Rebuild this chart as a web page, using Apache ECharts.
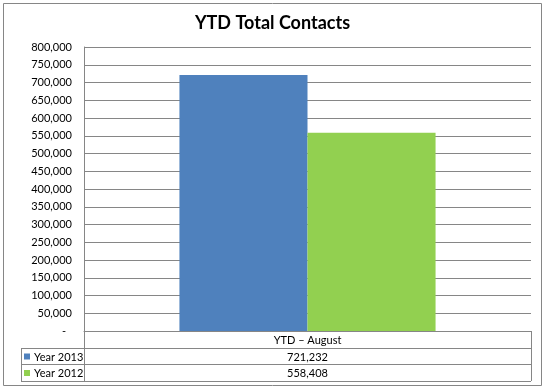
<!DOCTYPE html>
<html><head><meta charset="utf-8">
<script src="https://cdn.jsdelivr.net/npm/echarts@6/dist/echarts.min.js"></script>
<style>html,body{margin:0;padding:0;background:#fff}#c{width:545px;height:388px}</style>
</head><body><div id="c"></div>
<script>
const title = 'YTD Total Contacts';
const categories = ['YTD \u2013 August'];
const seriesNames = ['Year 2013', 'Year 2012'];
const values2013 = [721232];
const values2012 = [558408];
const seriesColors = ['#4F81BD', '#92D050'];
const yMin = 0, yMax = 800000, yStep = 50000;

const FONT = 'Lato, "Open Sans", sans-serif';
const G = {left: 84, right: 531, top: 47, bottom: 331};
const tableLeft = 21;
const rowH = [17, 16, 17];
const fmt = v => v.toLocaleString('en-US');

const chart = echarts.init(document.getElementById('c'), null, {renderer: 'canvas'});
const allVals = [values2013, values2012];

const graphics = [];
// outer border
graphics.push({type: 'rect', shape: {x: 3.5, y: 3.5, width: 538, height: 382}, style: {fill: 'none', stroke: '#868686', lineWidth: 1}, silent: true});
// table lines
const y0 = G.bottom, y1 = y0 + rowH[0], y2 = y1 + rowH[1], y3 = y2 + rowH[2];
const L = (x1, ya, x2, yb) => graphics.push({type: 'line', shape: {x1, y1: ya, x2, y2: yb}, style: {stroke: '#868686', lineWidth: 1}, silent: true});
L(tableLeft, y1 + 0.5, G.right, y1 + 0.5);
L(tableLeft, y2 + 0.5, G.right, y2 + 0.5);
L(tableLeft, y3 + 0.5, G.right, y3 + 0.5);
L(tableLeft + 0.5, y1, tableLeft + 0.5, y3);
L(G.left + 0.5, y0, G.left + 0.5, y3);
L(G.right + 0.5, y0, G.right + 0.5, y3);
// header text
const cx = (G.left + G.right) / 2;
graphics.push({type: 'text', style: {text: categories[0], x: cx, y: (y0 + y1) / 2 + 1, align: 'center', verticalAlign: 'middle', font: '11px ' + FONT, fill: '#000'}});
const rowYs = [(y1 + y2) / 2 + 1, (y2 + y3) / 2 + 1];
seriesNames.forEach((n, i) => {
  graphics.push({type: 'rect', shape: {x: 24, y: rowYs[i] - 3.5, width: 6, height: 6}, style: {fill: seriesColors[i]}});
  graphics.push({type: 'text', style: {text: n, x: 34, y: rowYs[i], align: 'left', verticalAlign: 'middle', font: '11px ' + FONT, fill: '#000'}});
  graphics.push({type: 'text', style: {text: fmt(allVals[i][0]), x: cx, y: rowYs[i], align: 'center', verticalAlign: 'middle', font: '11px ' + FONT, fill: '#000'}});
});

chart.setOption({
  animation: false,
  backgroundColor: '#fff',
  title: {text: title, left: 'center', top: 9, textStyle: {fontFamily: FONT, fontWeight: 'bold', fontSize: 18, color: '#000'}},
  grid: {left: G.left, right: 545 - G.right, top: G.top, bottom: 388 - G.bottom, containLabel: false},
  xAxis: {type: 'category', data: categories,
    axisLine: {show: true, lineStyle: {color: '#868686'}}, axisTick: {show: false}, axisLabel: {show: false}},
  yAxis: {type: 'value', min: yMin, max: yMax, interval: yStep,
    axisLine: {show: true, lineStyle: {color: '#868686'}}, axisTick: {show: false},
    splitLine: {show: true, lineStyle: {color: '#868686', width: 1}},
    axisLabel: {margin: 12, fontFamily: FONT, fontSize: 11, color: '#000',
      formatter: v => v === 0 ? '{z|-}' : fmt(v),
      rich: {z: {padding: [0, 6, 0, 0], fontFamily: FONT, fontSize: 11, color: '#000'}}}},
  series: [
    {name: seriesNames[0], type: 'bar', data: values2013, itemStyle: {color: seriesColors[0]}, barGap: '0%', barCategoryGap: '42.7%'},
    {name: seriesNames[1], type: 'bar', data: values2012, itemStyle: {color: seriesColors[1]}, barGap: '0%', barCategoryGap: '42.7%'}
  ],
  graphic: graphics
});
</script></body></html>
